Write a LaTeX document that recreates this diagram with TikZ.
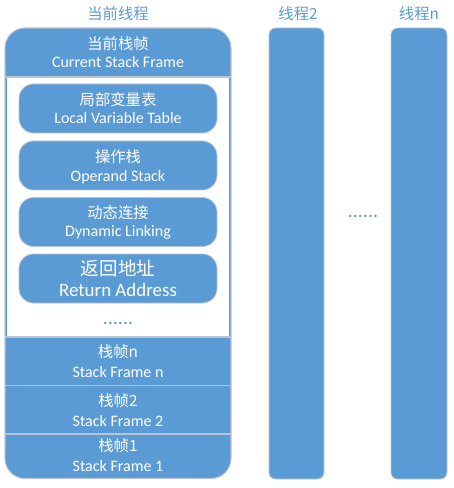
\documentclass[tikz,border=0pt]{standalone}
\usepackage{fontspec}
\setmainfont{Carlito}
\newfontfamily\cjk{Noto Sans CJK SC}
\definecolor{mblue}{RGB}{91,155,213}
\definecolor{edgegray}{RGB}{184,196,210}
\begin{document}
\begin{tikzpicture}[x=0.75pt,y=-0.75pt,
  every node/.style={inner sep=0pt, outer sep=0pt},
  cn/.style={font=\cjk\fontsize{11.5}{13}\selectfont, text=white, anchor=base},
  en/.style={font=\fontsize{12}{13}\selectfont, text=white, anchor=base},
  cnbig/.style={font=\cjk\fontsize{13.9}{15}\selectfont, text=white, anchor=base},
  enbig/.style={font=\fontsize{14.2}{15}\selectfont, text=white, anchor=base},
  ttl/.style={font=\cjk\fontsize{11.5}{13}\selectfont, text=mblue, anchor=base},
  dots/.style={font=\fontsize{15}{16}\selectfont, text=mblue, anchor=base},
  slot/.style={draw=edgegray, line width=0.6pt, fill=mblue, rounded corners=11pt,
    minimum width=148.5pt, minimum height=36.75pt},
  thread/.style={draw=edgegray, line width=0.6pt, fill=mblue, rounded corners=5pt,
    minimum height=338.25pt},
  sep/.style={draw=edgegray, line width=0.8pt}]
\useasboundingbox (0,0) rectangle (453,488);

% titles
\node[ttl] (t1) at (118,19.1) {当前线程};
\node[ttl] (t2) at (298,19.1) {线程2};
\node[ttl] (tn) at (419,19.1) {线程n};

% main thread frame
\fill[mblue, rounded corners=15pt] (5,28) rectangle (231,478.5);
\fill[white] (6.6,77) rectangle (229.4,337);
\coordinate (hl) at (5,77);   \coordinate (hr) at (231,77);
\coordinate (al) at (5,337);  \coordinate (ar) at (231,337);
\coordinate (bl) at (5,385.5);\coordinate (br) at (231,385.5);
\coordinate (cl) at (5,434);  \coordinate (cr) at (231,434);
\draw[sep] (hl) -- (hr);
\draw[sep] (al) -- (ar);
\draw[sep] (bl) -- (br);
\draw[sep] (cl) -- (cr);
\draw[edgegray, line width=0.8pt, rounded corners=15pt] (5,28) rectangle (231,478.5);

% header
\node[cn] (hcn) at (118,49.1) {当前栈帧};
\node[en] (hen) at (118,67.7) {Current Stack Frame};

% slots
\node[slot] (lvt) at (118,108.5) {};
\node[cn] (lvtcn) at (118,105.8) {局部变量表};
\node[en] (lvten) at (118,124) {Local Variable Table};

\node[slot] (op) at (118,165.5) {};
\node[cn] (opcn) at (118,162.8) {操作栈};
\node[en] (open) at (118,181) {Operand Stack};

\node[slot] (dyn) at (118,222) {};
\node[cn] (dyncn) at (118,218.8) {动态连接};
\node[en] (dynen) at (118,236.3) {Dynamic Linking};

\node[slot] (ret) at (118,278.5) {};
\node[cnbig] (retcn) at (118,275.5) {返回地址};
\node[enbig] (reten) at (118,296) {Return Address};

\node[dots] (d1) at (118,324.5) {......};

% stack frames
\node[cn] (fncn) at (118,357.8) {栈帧n};
\node[en] (fnen) at (118,377) {Stack Frame n};
\node[cn] (f2cn) at (118,406.3) {栈帧2};
\node[en] (f2en) at (118,426) {Stack Frame 2};
\node[cn] (f1cn) at (118,451.3) {栈帧1};
\node[en] (f1en) at (118,471) {Stack Frame 1};

% other threads
\node[thread, minimum width=41.25pt] (th2) at (296.5,253.5) {};
\node[thread, minimum width=42pt] (thn) at (419,253.5) {};
\node[dots] (d2) at (363,217.5) {......};
\end{tikzpicture}
\end{document}
